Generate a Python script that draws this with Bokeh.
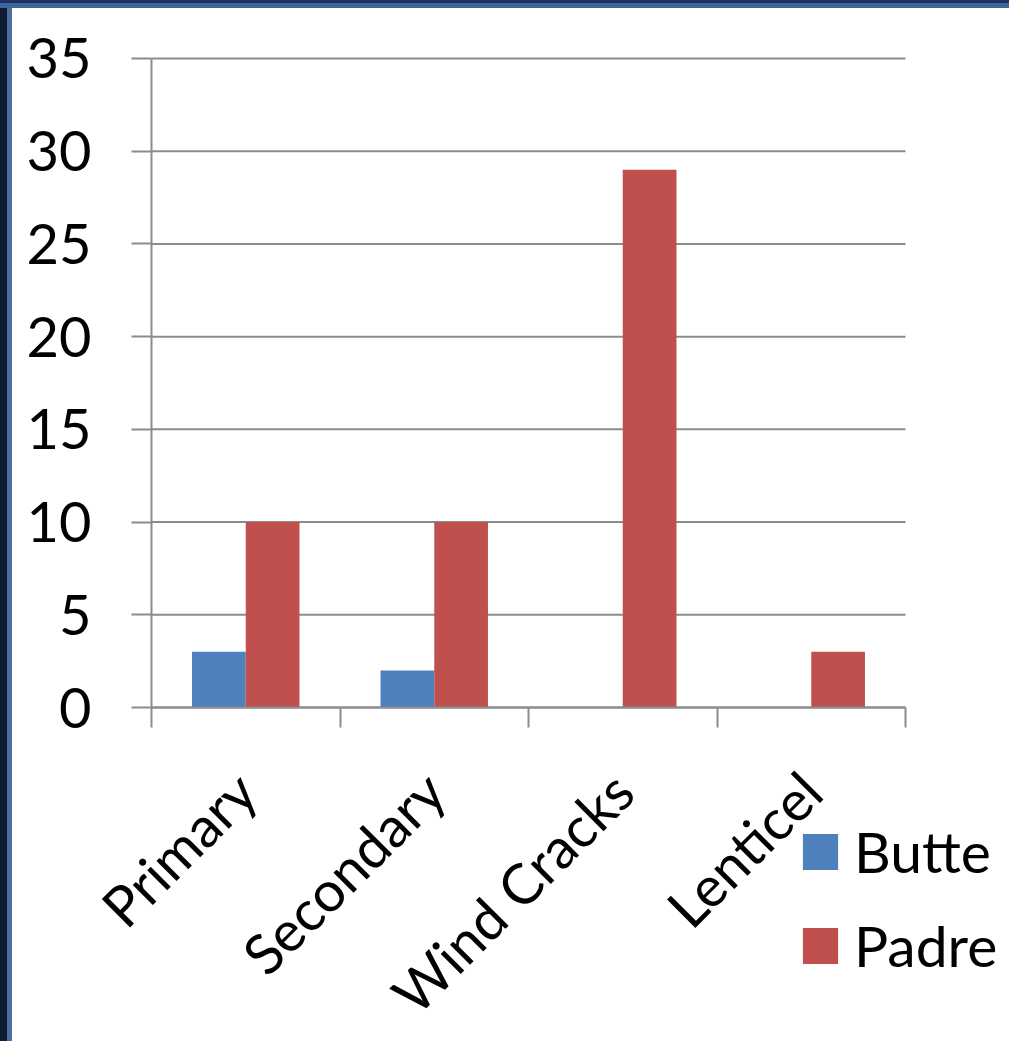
import numpy as np
from bokeh.plotting import figure
from bokeh.models import (ColumnDataSource, FixedTicker, Legend, LegendItem,
                          Range1d, Spacer)
from bokeh.layouts import column, row
from bokeh.transform import dodge
from bokeh.embed import file_html
from bokeh.resources import INLINE

categories = ["Primary", "Secondary", "Wind Cracks", "Lenticel"]
butte = [3, 2, 0, 0]
padre = [10, 10, 29, 3]
y_ticks = [0, 5, 10, 15, 20, 25, 30, 35]
series_names = ["Butte", "Padre"]
colors = ["#4F81BD", "#C0504D"]

FONT = "Lato"
GRAY = "#8C8C8C"

n = len(categories)
xs = np.arange(n) + 0.5
src = ColumnDataSource(dict(x=xs, butte=butte, padre=padre))

# whole canvas is the frame; axes are placed at fixed locations inside it
W, H = 997, 1033
px_x = 188.5     # pixels per category
px_y = 18.543    # pixels per unit
x0_px, y0_px = 139, 699   # position of the (0, 0) corner inside the canvas
x_range = Range1d(-x0_px / px_x, (W - x0_px) / px_x)
y_range = Range1d(-(H - y0_px) / px_y, y0_px / px_y)

p = figure(width=W, height=H, output_backend="svg", toolbar_location=None,
           x_range=x_range, y_range=y_range,
           min_border=0, min_border_left=0, min_border_right=0,
           min_border_top=0, min_border_bottom=0)
p.outline_line_color = None
p.background_fill_color = "white"
p.border_fill_color = "white"
p.xgrid.visible = False
p.ygrid.visible = False

# horizontal gridlines across the category span
p.segment(x0=[0] * len(y_ticks), x1=[n] * len(y_ticks), y0=y_ticks, y1=y_ticks,
          line_color=GRAY, line_width=2)

bw = 0.285
r1 = p.vbar(x=dodge("x", -bw / 2), top="butte", width=bw, source=src,
            fill_color=colors[0], line_color=None)
r2 = p.vbar(x=dodge("x", bw / 2), top="padre", width=bw, source=src,
            fill_color=colors[1], line_color=None)

# y axis
yax = p.yaxis[0]
yax.fixed_location = 0
yax.bounds = (0, 35)
yax.ticker = FixedTicker(ticks=y_ticks)
yax.axis_line_color = GRAY
yax.axis_line_width = 2
yax.major_tick_line_color = GRAY
yax.major_tick_line_width = 2
yax.major_tick_out = 20
yax.major_tick_in = 0
yax.minor_tick_line_color = None
yax.major_label_standoff = 40
yax.major_label_text_font = FONT
yax.major_label_text_font_size = "56px"
yax.major_label_text_color = "black"

# x axis: ticks at category boundaries, labels at centres
xax = p.xaxis[0]
xax.fixed_location = 0
xax.bounds = (0, n)
xax.ticker = FixedTicker(ticks=list(xs), minor_ticks=list(range(n + 1)))
xax.major_label_overrides = {float(x): c for x, c in zip(xs, categories)}
xax.axis_line_color = GRAY
xax.axis_line_width = 2
xax.major_tick_line_color = None
xax.minor_tick_line_color = GRAY
xax.minor_tick_line_width = 2
xax.minor_tick_out = 20
xax.minor_tick_in = 0
xax.major_label_orientation = np.pi / 4
xax.major_label_standoff = 54
xax.major_label_text_font = FONT
xax.major_label_text_font_size = "56px"
xax.major_label_text_color = "black"

legend = Legend(items=[LegendItem(label=series_names[0], renderers=[r1]),
                       LegendItem(label=series_names[1], renderers=[r2])],
                location=(786, 62), orientation="vertical")
legend.border_line_color = None
legend.background_fill_alpha = 0
legend.padding = 0
legend.margin = 0
legend.glyph_width = 44
legend.glyph_height = 45
legend.label_standoff = 12
legend.spacing = 26
legend.label_text_font = FONT
legend.label_text_font_size = "57px"
legend.label_text_color = "black"
p.add_layout(legend, "center")

top_bar = Spacer(width=1009, height=8,
                 styles={"background": "linear-gradient(#1B3460 0%, #1B3460 40%, #3E6699 40%, #3E6699 100%)"})
left_bar = Spacer(width=12, height=1033,
                  styles={"background": "linear-gradient(to right, #0E1C33 0%, #0E1C33 58%, #4A6FA0 58%, #4A6FA0 100%)"})
layout = column(top_bar, row(left_bar, p, spacing=0), spacing=0)

open("out.html", "w").write(file_html(layout, INLINE))
